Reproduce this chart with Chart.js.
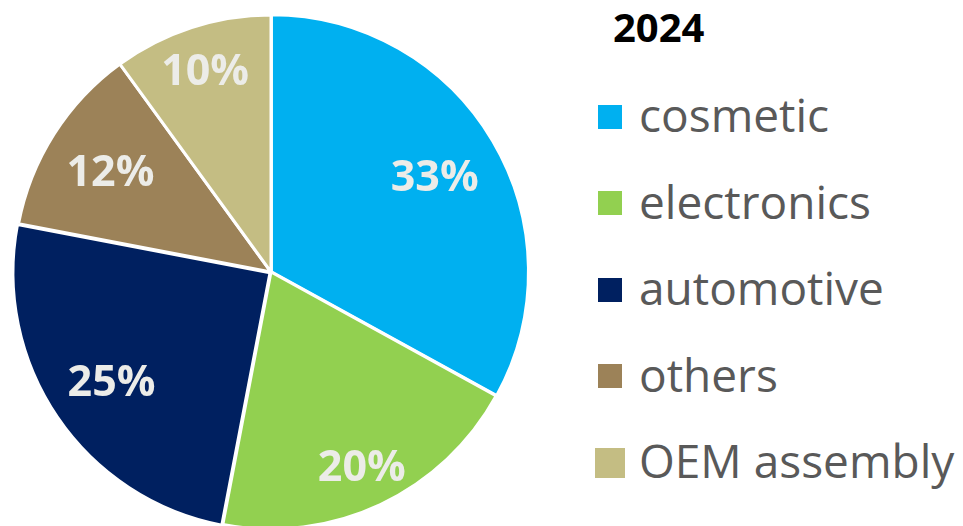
<!DOCTYPE html>
<html>
<head>
<meta charset="utf-8">
<script src="https://cdn.jsdelivr.net/npm/chart.js"></script>
<style>
  html, body { margin: 0; padding: 0; background: #fff; overflow: hidden; }
  body { width: 963px; height: 526px; position: relative; font-family: "Open Sans", sans-serif; }
  #pie-wrap { position: absolute; left: 0; top: 0; width: 542px; height: 544px; }
  #legend-title { position: absolute; left: 613px; top: 7px; font-weight: bold; font-size: 40px; color: #000; line-height: 1; }
  .lg-item { position: absolute; left: 598px; height: 46px; line-height: 46px; font-size: 46px; color: #595959; display: flex; align-items: center; white-space: nowrap; }
  .lg-box { display: inline-block; margin-right: 17px; margin-top: 5px; }
</style>
</head>
<body>
<div id="pie-wrap"><canvas id="pie"></canvas></div>
<div id="legend-title">2024</div>
<div id="legend"></div>
<script>
// values (share in %)
const labels  = ['cosmetic', 'electronics', 'automotive', 'others', 'OEM assembly'];
const values  = [33, 20, 25, 12, 10];
const colors  = ['#00B0F0', '#92D050', '#002060', '#9C8258', '#C4BD83'];
const legendTitle = '2024';

// where each % label sits, as a share of the radius
const LABEL_POS = [0.74, 0.83, 0.75, 0.74, 0.83];

const pctLabels = {
  id: 'pctLabels',
  afterDatasetsDraw(chart) {
    const ctx = chart.ctx;
    const meta = chart.getDatasetMeta(0);
    ctx.save();
    ctx.font = 'bold 43px "Open Sans"';
    ctx.fillStyle = '#ECECE8';
    ctx.textAlign = 'center';
    ctx.textBaseline = 'alphabetic';
    meta.data.forEach((arc, i) => {
      const {x, y, startAngle, endAngle, outerRadius} =
        arc.getProps(['x','y','startAngle','endAngle','outerRadius'], true);
      const mid = (startAngle + endAngle) / 2;
      const r = outerRadius * LABEL_POS[i];
      // baseline set so the digits are centred on the point
      ctx.fillText(values[i] + '%', x + Math.cos(mid) * r, y + Math.sin(mid) * r + 16);
    });
    ctx.restore();
  }
};

function buildLegend() {
  const el = document.getElementById('legend');
  document.getElementById('legend-title').textContent = legendTitle;
  labels.forEach((lab, i) => {
    const row = document.createElement('div');
    row.className = 'lg-item';
    row.style.top = (132 + 86.5 * i - 41) + 'px';
    const last = i === labels.length - 1;
    const box = document.createElement('span');
    box.className = 'lg-box';
    const sz = last ? 30 : 24;
    box.style.width = sz + 'px';
    box.style.height = sz + 'px';
    box.style.background = colors[i];
    if (last) { box.style.marginLeft = '-3px'; box.style.marginRight = '14px'; }
    row.appendChild(box);
    row.appendChild(document.createTextNode(lab));
    el.appendChild(row);
  });
}

function draw() {
  buildLegend();
  new Chart(document.getElementById('pie').getContext('2d'), {
    type: 'pie',
    data: {
      labels: labels,
      datasets: [{
        data: values,
        backgroundColor: colors,
        borderColor: '#ffffff',
        borderWidth: 3,
        offset: [2, 0, 5, 0, 0]
      }]
    },
    options: {
      responsive: true,
      maintainAspectRatio: false,
      animation: false,
      radius: 257,
      layout: { padding: 0 },
      plugins: { legend: { display: false }, tooltip: { enabled: false } }
    },
    plugins: [pctLabels]
  });
}

if (document.fonts && document.fonts.load) {
  Promise.all([
    document.fonts.load('bold 43px "Open Sans"'),
    document.fonts.load('46px "Open Sans"')
  ]).then(draw, draw);
} else draw();
</script>
</body>
</html>
